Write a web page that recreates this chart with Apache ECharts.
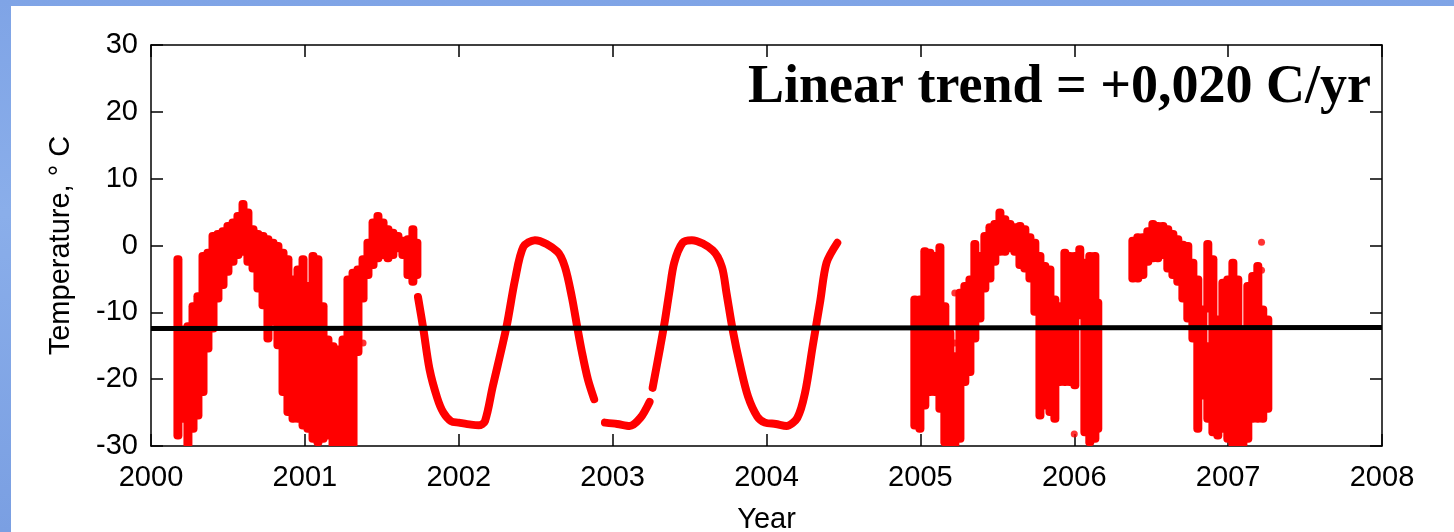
<!DOCTYPE html>
<html>
<head>
<meta charset="utf-8">
<script src="https://cdn.jsdelivr.net/npm/echarts@6/dist/echarts.min.js"></script>
<style>
  html, body { margin: 0; padding: 0; }
  body {
    width: 1454px; height: 532px; overflow: hidden; position: relative;
    background: linear-gradient(180deg, #7fa4e6 0%, #8aaeea 40%, #7a9fe2 100%);
  }
  #main { position: absolute; left: 11px; top: 6px; width: 1443px; height: 526px; background: #fff; }
</style>
</head>
<body>
<div id="main"></div>
<script>
// axis ranges
var yearMin = 2000, yearMax = 2008, yearStep = 1;
var tempMin = -30, tempMax = 30, tempStep = 10;

// noisy daily periods, read as columns: [year, lowest, highest]
var noisyColumns = [
  [2000.175, -28.5, -2.0], [2000.208, -26.0, -12.5], [2000.240, -29.8, -12.0], [2000.273, -27.5, -9.0],
  [2000.305, -25.5, -7.5], [2000.338, -22.0, -1.5], [2000.370, -15.5, -1.0], [2000.403, -12.5, 1.5],
  [2000.435, -8.0, 1.8], [2000.468, -6.0, 2.2], [2000.500, -4.0, 3.0], [2000.533, -2.5, 3.5],
  [2000.565, -1.5, 4.5], [2000.598, -1.0, 6.3], [2000.630, -2.5, 5.0], [2000.663, -3.5, 2.5],
  [2000.695, -6.5, 1.8], [2000.728, -9.0, 1.5], [2000.760, -14.0, 1.0], [2000.793, -11.5, 0.5],
  [2000.825, -15.0, 0.0], [2000.858, -22.0, -1.0], [2000.890, -25.0, -2.0], [2000.923, -26.0, -5.0],
  [2000.955, -26.0, -3.5], [2000.988, -27.0, -2.0], [2001.020, -27.5, -6.0], [2001.053, -29.0, -1.5],
  [2001.085, -29.5, -2.0], [2001.118, -29.0, -9.0], [2001.150, -28.5, -14.0], [2001.183, -29.8, -15.0],
  [2001.215, -29.8, -15.5], [2001.248, -29.5, -14.0], [2001.280, -29.8, -5.0], [2001.313, -29.8, -4.0],
  [2001.345, -16.0, -3.5], [2001.378, -8.0, -2.0], [2001.410, -4.5, 0.5], [2001.443, -3.0, 3.5],
  [2001.475, -2.0, 4.5], [2001.508, -1.5, 3.5], [2001.540, -2.0, 2.5], [2001.572, -1.5, 2.0],
  [2001.605, -0.5, 1.5], [2001.637, -1.5, 0.8], [2001.670, -4.5, 1.0], [2001.702, -5.5, 2.5],
  [2001.728, -4.5, 0.5],

  [2004.964, -27.0, -8.0], [2004.997, -27.5, -8.0], [2005.029, -24.0, -0.8], [2005.062, -22.0, -1.0],
  [2005.094, -22.0, -1.5], [2005.127, -24.5, -0.2], [2005.159, -29.5, -9.0], [2005.192, -29.8, -13.0],
  [2005.224, -29.8, -16.5], [2005.257, -29.0, -7.0], [2005.289, -20.5, -6.0], [2005.322, -19.0, -5.0],
  [2005.354, -14.0, 0.3], [2005.387, -11.0, -1.5], [2005.419, -6.5, 1.5], [2005.452, -5.0, 2.8],
  [2005.484, -2.5, 3.3], [2005.517, -1.0, 5.0], [2005.549, -1.0, 4.0], [2005.582, -0.5, 3.3],
  [2005.614, -1.0, 2.8], [2005.647, -3.0, 3.0], [2005.679, -3.5, 2.5], [2005.712, -5.0, 1.3],
  [2005.744, -10.0, 0.5], [2005.777, -25.5, -1.5], [2005.809, -24.0, -3.0], [2005.842, -25.0, -3.5],
  [2005.874, -26.0, -8.0], [2005.906, -20.5, -9.0], [2005.939, -20.5, -1.0], [2005.971, -20.5, -1.5],
  [2006.004, -21.0, -1.5], [2006.036, -10.5, -0.5], [2006.069, -28.0, -2.5], [2006.101, -29.5, -1.5],
  [2006.134, -29.0, -1.5], [2006.153, -27.5, -8.5],

  [2006.381, -5.0, 0.8], [2006.413, -5.0, 1.3], [2006.446, -4.5, 1.3], [2006.478, -2.5, 2.2],
  [2006.511, -2.0, 3.3], [2006.543, -2.0, 3.0], [2006.576, -1.5, 3.0], [2006.608, -3.5, 2.5],
  [2006.641, -4.5, 1.8], [2006.673, -5.5, 1.0], [2006.706, -8.0, 0.2], [2006.738, -11.0, 0.0],
  [2006.771, -14.0, -2.5], [2006.803, -27.5, -5.0], [2006.836, -22.5, -9.5], [2006.868, -9.5, 0.3],
  [2006.868, -26.0, -15.0], [2006.901, -28.0, -2.0], [2006.933, -28.5, -11.0], [2006.966, -27.5, -5.5],
  [2006.998, -29.0, -5.0], [2007.031, -29.8, -2.5], [2007.063, -29.5, -5.0], [2007.096, -29.8, -13.0],
  [2007.128, -29.0, -6.0], [2007.160, -26.0, -4.5], [2007.193, -26.0, -3.0], [2007.225, -26.0, -9.5],
  [2007.258, -24.5, -11.0]
];

// smooth period 2001.7 - 2004.5: [year, temp], null = gap in record
var smoothCurve = [
  [2001.735, -7.7], [2001.77, -12.5], [2001.81, -18.5], [2001.86, -22.8], [2001.90, -25.0],
  [2001.95, -26.3], [2002.00, -26.5], [2002.08, -26.8], [2002.13, -26.9], [2002.17, -26.3],
  [2002.22, -21.2], [2002.31, -12.2], [2002.365, -5.2], [2002.42, -0.2], [2002.495, 0.8],
  [2002.64, -0.9], [2002.69, -3.2], [2002.735, -7.7], [2002.77, -12.2], [2002.80, -15.9],
  [2002.84, -20.1], [2002.88, -23.0],
  null,
  [2002.95, -26.5], [2003.03, -26.7], [2003.11, -27.0], [2003.18, -25.8], [2003.24, -23.4],
  null,
  [2003.26, -21.3], [2003.31, -15.1], [2003.34, -11.2], [2003.37, -6.7], [2003.40, -2.6],
  [2003.455, 0.4], [2003.515, 0.8], [2003.65, -0.7], [2003.71, -3.2], [2003.74, -7.1],
  [2003.78, -12.6], [2003.83, -18.1], [2003.88, -22.6], [2003.94, -25.6], [2003.99, -26.5],
  [2004.06, -26.7], [2004.13, -27.0], [2004.20, -25.8], [2004.25, -22.1], [2004.30, -15.1],
  [2004.35, -8.2], [2004.39, -2.6], [2004.46, 0.4]
];

// single outlying days
var isolatedPoints = [
  [2001.378, -14.6], [2005.224, -7.1], [2005.224, -14.6], [2006.000, -28.2],
  [2007.217, 0.5], [2007.217, -3.7]
];

// linear fit, +0.020 C/yr
var trendLine = [[2000, -12.42], [2008, -12.26]];

var trendText = "Linear trend = +0,020 C/yr";

var red = "#ff0000";
var font = "'Liberation Sans', Arial, sans-serif";

var myChart = echarts.init(document.getElementById("main"));

function plainNumber(v) {
  return String(v);
}

var option = {
  animation: false,
  grid: { left: 140, top: 39, right: 72, bottom: 86, outerBoundsMode: "none", containLabel: false },
  xAxis: [
    {
      type: "value", min: yearMin, max: yearMax, interval: yearStep,
      name: "Year", nameLocation: "middle", nameGap: 59,
      nameTextStyle: { fontSize: 29, color: "#000", fontFamily: font },
      axisLine: { onZero: false, lineStyle: { color: "#000", width: 1.5 } },
      axisTick: { inside: true, length: 12, lineStyle: { color: "#000", width: 1.5 } },
      axisLabel: { fontSize: 29, color: "#000", fontFamily: font, margin: 17, formatter: plainNumber },
      splitLine: { show: false }
    },
    {
      type: "value", position: "top", min: yearMin, max: yearMax, interval: yearStep,
      axisLine: { onZero: false, lineStyle: { color: "#000", width: 1.5 } },
      axisTick: { inside: true, length: 12, lineStyle: { color: "#000", width: 1.5 } },
      axisLabel: { show: false },
      splitLine: { show: false }
    }
  ],
  yAxis: [
    {
      type: "value", min: tempMin, max: tempMax, interval: tempStep,
      name: "Temperature, ° C", nameLocation: "middle", nameGap: 76,
      nameTextStyle: { fontSize: 29, color: "#000", fontFamily: font },
      axisLine: { onZero: false, lineStyle: { color: "#000", width: 1.5 } },
      axisTick: { inside: true, length: 12, lineStyle: { color: "#000", width: 1.5 } },
      axisLabel: { fontSize: 29, color: "#000", fontFamily: font, margin: 13 },
      splitLine: { show: false }
    },
    {
      type: "value", position: "right", min: tempMin, max: tempMax, interval: tempStep,
      axisLine: { onZero: false, lineStyle: { color: "#000", width: 1.5 } },
      axisTick: { inside: true, length: 12, lineStyle: { color: "#000", width: 1.5 } },
      axisLabel: { show: false },
      splitLine: { show: false }
    }
  ],
  graphic: [
    {
      type: "text", right: 1443 - 1360, top: 55, z: 100,
      style: {
        text: trendText, fill: "#000",
        font: "bold 54px 'Liberation Serif', 'Times New Roman', serif"
      }
    }
  ],
  series: [
    {
      name: "noisy", type: "custom", clip: true,
      data: noisyColumns,
      renderItem: function (params, api) {
        var p0 = api.coord([api.value(0), api.value(1)]);
        var p1 = api.coord([api.value(0), api.value(2)]);
        return {
          type: "rect",
          shape: { x: p0[0] - 4.5, y: p1[1] - 3.5, width: 9, height: p0[1] - p1[1] + 7, r: 4 },
          style: { fill: red }
        };
      }
    },
    {
      name: "smooth", type: "line", data: smoothCurve,
      showSymbol: false, smooth: 0.3, connectNulls: false,
      lineStyle: { color: red, width: 8, cap: "round", join: "round" }
    },
    {
      name: "single", type: "scatter", data: isolatedPoints,
      symbolSize: 7, itemStyle: { color: red }
    },
    {
      name: "trend", type: "line", data: trendLine, z: 5,
      showSymbol: false,
      lineStyle: { color: "#000", width: 5 }
    }
  ]
};

myChart.setOption(option);
</script>
</body>
</html>
